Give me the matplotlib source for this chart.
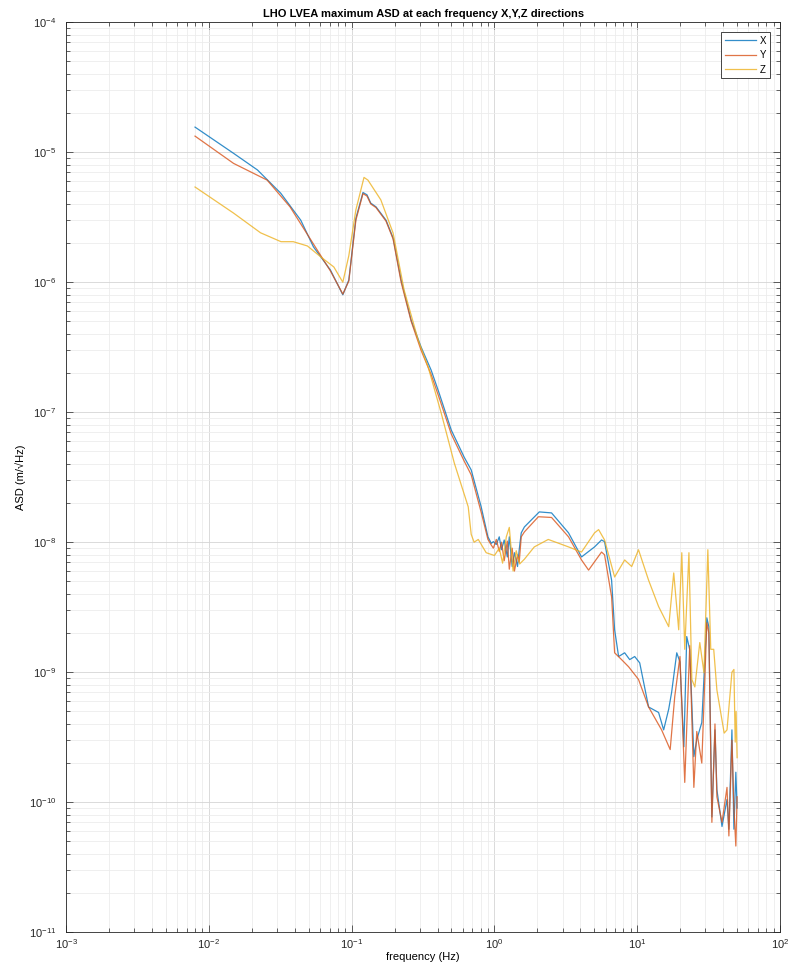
"""
plot.py
-------
Maximum ASD seen in the LHO LVEA at each frequency, X/Y/Z directions.
Values read off the original MATLAB figure.
"""

import matplotlib
matplotlib.use("Agg")
import matplotlib.pyplot as plt
from matplotlib.ticker import LogLocator, NullFormatter

# X direction
x_freq = [0.008, 0.0149, 0.0219, 0.0318, 0.044, 0.054, 0.071, 0.0867, 0.0955, 0.107,
          0.120, 0.128, 0.136, 0.148, 0.174, 0.195, 0.222, 0.261, 0.306, 0.360,
          0.409, 0.498, 0.614, 0.687, 0.807, 0.90, 0.95, 0.982, 1.03, 1.08,
          1.12, 1.17, 1.23, 1.27, 1.33, 1.38, 1.45, 1.49, 1.54, 1.62,
          2.06, 2.51, 3.30, 4.07, 5.02, 5.62, 5.90, 6.61, 6.94, 7.40,
          8.16, 8.85, 9.59, 10.4, 12.0, 14.1, 15.3, 16.6, 17.4, 18.9,
          19.9, 21.2, 22.2, 23.3, 24.9, 26.1, 28.3, 30.7, 31.7, 33.3,
          35.0, 36.1, 39.2, 42.5, 43.8, 46.0, 47.5, 49.0, 50.0]
x_asd = [1.56e-5, 9.8e-6, 7.3e-6, 4.85e-6, 3.0e-6, 1.87e-6, 1.24e-6, 8.0e-7, 1.04e-6, 3.1e-6,
         4.9e-6, 4.7e-6, 4.06e-6, 3.8e-6, 3.0e-6, 2.19e-6, 1.04e-6, 5.1e-7, 3.18e-7, 2.11e-7,
         1.41e-7, 7.3e-8, 4.5e-8, 3.6e-8, 1.87e-8, 1.1e-8, 9.8e-9, 1.01e-8, 9.6e-9, 1.1e-8,
         8.75e-9, 1.04e-8, 7.7e-9, 1.1e-8, 6.5e-9, 8.3e-9, 6.5e-9, 8.75e-9, 1.18e-8, 1.31e-8,
         1.71e-8, 1.68e-8, 1.18e-8, 7.7e-9, 9.2e-9, 1.04e-8, 1.01e-8, 5.1e-9, 2.12e-9, 1.32e-9,
         1.41e-9, 1.25e-9, 1.32e-9, 1.18e-9, 5.4e-10, 4.9e-10, 3.6e-10, 5.2e-10, 7.0e-10, 1.41e-9,
         1.2e-9, 2.67e-10, 1.88e-9, 1.49e-9, 2.24e-10, 3.03e-10, 4.1e-10, 2.62e-9, 2.24e-9, 7.7e-11,
         3.6e-10, 1.25e-10, 6.5e-11, 1.05e-10, 6.2e-11, 3.6e-10, 6.2e-11, 1.7e-10, 9.0e-11]

# Y direction
y_freq = [0.008, 0.0149, 0.0256, 0.037, 0.052, 0.071, 0.0867, 0.0955, 0.107, 0.120,
          0.128, 0.136, 0.148, 0.174, 0.195, 0.222, 0.261, 0.306, 0.360, 0.409,
          0.498, 0.614, 0.687, 0.807, 0.90, 0.95, 0.982, 1.03, 1.08, 1.12,
          1.17, 1.23, 1.27, 1.33, 1.38, 1.45, 1.49, 1.54, 1.62, 2.03,
          2.51, 3.30, 4.07, 4.56, 5.62, 5.90, 6.61, 6.94, 7.76, 8.7,
          10.2, 12.0, 14.8, 17.0, 18.3, 19.9, 21.5, 23.3, 24.9, 26.1,
          28.3, 30.7, 31.7, 33.3, 35.0, 36.1, 39.2, 42.5, 43.8, 46.0,
          47.5, 49.0, 50.0]
y_asd = [1.33e-5, 8.2e-6, 6.1e-6, 3.8e-6, 2.1e-6, 1.22e-6, 8.1e-7, 1.02e-6, 3.0e-6, 4.8e-6,
         4.6e-6, 4.0e-6, 3.75e-6, 2.95e-6, 2.15e-6, 1.0e-6, 5.0e-7, 3.0e-7, 1.95e-7, 1.3e-7,
         6.8e-8, 4.2e-8, 3.3e-8, 1.7e-8, 1.05e-8, 9.5e-9, 9.0e-9, 1.05e-8, 8.5e-9, 1.0e-8,
         7.2e-9, 1.02e-8, 6.2e-9, 9.0e-9, 6.0e-9, 8.0e-9, 7.0e-9, 1.1e-8, 1.2e-8, 1.57e-8,
         1.55e-8, 1.1e-8, 7.3e-9, 6.1e-9, 8.4e-9, 8.0e-9, 3.8e-9, 1.41e-9, 1.25e-9, 1.1e-9,
         8.8e-10, 5.4e-10, 3.6e-10, 2.54e-10, 6.5e-10, 1.32e-9, 1.42e-10, 1.6e-9, 1.3e-10, 3.5e-10,
         2.0e-10, 2.4e-9, 2.0e-9, 7.0e-11, 4.0e-10, 1.1e-10, 7.0e-11, 1.3e-10, 5.5e-11, 3.0e-10,
         9.0e-11, 4.6e-11, 1.1e-10]

# Z direction
z_freq = [0.008, 0.0149, 0.023, 0.032, 0.039, 0.049, 0.061, 0.075, 0.0867, 0.0955,
          0.107, 0.122, 0.130, 0.160, 0.195, 0.233, 0.292, 0.343, 0.423, 0.523,
          0.655, 0.687, 0.72, 0.77, 0.875, 1.0, 1.08, 1.14, 1.21, 1.27,
          1.35, 1.42, 1.50, 1.62, 1.90, 2.38, 3.30, 4.07, 5.02, 5.36,
          5.90, 6.94, 8.16, 9.14, 10.2, 12.0, 14.1, 16.6, 18.0, 19.5,
          20.5, 21.5, 23.0, 24.1, 25.3, 27.4, 29.3, 31.2, 32.7, 34.3,
          36.1, 37.3, 40.6, 42.5, 46.0, 47.5, 48.5, 49.2, 50.0]
z_asd = [5.4e-6, 3.4e-6, 2.4e-6, 2.05e-6, 2.05e-6, 1.9e-6, 1.56e-6, 1.31e-6, 1.0e-6, 1.6e-6,
         3.6e-6, 6.4e-6, 6.1e-6, 4.3e-6, 2.39e-6, 8.7e-7, 3.6e-7, 2.23e-7, 9.9e-8, 4.07e-8,
         1.87e-8, 1.15e-8, 1.0e-8, 1.05e-8, 8.3e-9, 7.9e-9, 9.0e-9, 6.9e-9, 1.1e-8, 1.3e-8,
         6.0e-9, 8.6e-9, 6.8e-9, 7.4e-9, 9.2e-9, 1.05e-8, 9.2e-9, 8.4e-9, 1.18e-8, 1.25e-8,
         1.04e-8, 5.4e-9, 7.3e-9, 6.5e-9, 8.75e-9, 5.1e-9, 3.2e-9, 2.24e-9, 5.8e-9, 2.12e-9,
         8.3e-9, 1.5e-9, 8.3e-9, 8.8e-10, 7.7e-10, 1.69e-9, 9.9e-10, 8.75e-9, 1.5e-9, 1.5e-9,
         7.3e-10, 5.9e-10, 3.4e-10, 3.6e-10, 1.0e-9, 1.05e-9, 2.9e-10, 5.0e-10, 2.2e-10]

series_labels = ["X", "Y", "Z"]
series_colors = ["#0072BD", "#D95319", "#EDB120"]  # MATLAB default order

plt.rcParams["font.family"] = ["Liberation Sans", "DejaVu Sans"]
plt.rcParams["axes.unicode_minus"] = False

fig = plt.figure(figsize=(7.96, 9.66), dpi=100)
ax = fig.add_axes([0.083, 0.035, 0.897, 0.942])

for freq, asd, label, color in zip([x_freq, y_freq, z_freq], [x_asd, y_asd, z_asd],
                                   series_labels, series_colors):
    ax.loglog(freq, asd, color=color, linewidth=0.9, alpha=0.8, label=label)

ax.set_xlim(1e-3, 1e2)
ax.set_ylim(1e-11, 1e-4)

ax.xaxis.set_major_locator(LogLocator(base=10, numticks=12))
ax.yaxis.set_major_locator(LogLocator(base=10, numticks=12))
ax.xaxis.set_minor_locator(LogLocator(base=10, subs=range(2, 10), numticks=12))
ax.yaxis.set_minor_locator(LogLocator(base=10, subs=range(2, 10), numticks=12))
ax.xaxis.set_minor_formatter(NullFormatter())
ax.yaxis.set_minor_formatter(NullFormatter())

ax.grid(True, which="major", color="#d4d4d4", linewidth=0.6)
ax.grid(True, which="minor", color="#ececec", linewidth=0.6)
ax.set_axisbelow(True)

ax.tick_params(which="both", direction="in", top=True, right=True,
               colors="#262626", labelsize=8, width=0.5)
ax.tick_params(which="major", length=5)
ax.tick_params(which="minor", length=3)
ax.tick_params(axis="y", which="major", pad=7)
for side in ax.spines.values():
    side.set_color("#262626")
    side.set_linewidth(0.6)

ax.set_title("LHO LVEA maximum ASD at each frequency X,Y,Z directions",
             fontsize=8, fontweight="bold", pad=4)
ax.set_xlabel("frequency (Hz)", fontsize=8, labelpad=1)
ax.set_ylabel("ASD (m/\u221aHz)", fontsize=8, labelpad=2)

leg = ax.legend(loc="upper right", fontsize=7, fancybox=False, framealpha=1,
                edgecolor="#262626", handlelength=3.2, handletextpad=0.4,
                borderpad=0.4, labelspacing=0.45, borderaxespad=1.0)
leg.get_frame().set_linewidth(0.6)

fig.savefig("out.png", dpi=100)
